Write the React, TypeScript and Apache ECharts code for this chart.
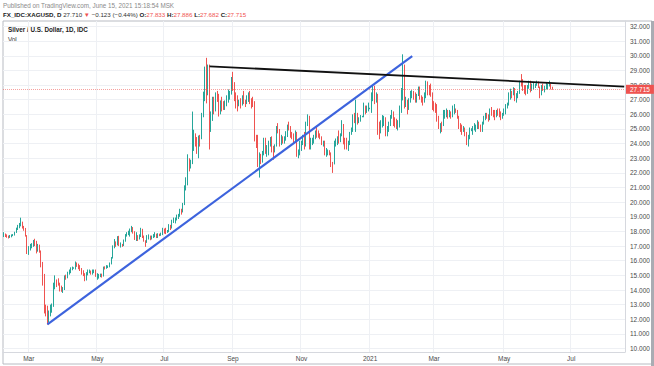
import React, { useEffect, useRef } from "react";
import * as echarts from "echarts";

// ---- data ----
const firstDate = "2020-02-07";
const axisEndDate = "2021-08-18";
const firstOpen = 17.7;

// daily closes, one row per month (Feb 2020 .. Jun 2021)
const closes = [
  17.77, 17.72, 17.66, 17.6, 17.68, 17.73, 17.76, 17.93, 18.22, 18.3, 18.55, 18.62, 18.32, 18.16, 17.72, 16.64,
  16.83, 17.06, 17.07, 17.29, 17.28, 16.88, 16.88, 16.67, 15.83, 14.87, 12.86, 12.55, 11.78, 12.28, 12.55, 12.89, 14.38, 14.64, 14.55, 14.45, 14.14, 13.97,
  14.06, 14.89, 14.86, 15.17, 15.18, 15.47, 15.48, 15.5, 15.75, 15.74, 15.65, 15.44, 15.23, 15.12, 14.67, 15.11, 15.25, 15.26, 15.13, 15.21, 15.27, 14.95,
  14.95, 14.97, 15.03, 14.94, 15.53, 15.5, 15.57, 15.63, 15.81, 16.19, 17.01, 17.2, 17.08, 17.62, 17.07, 17.07, 17.05, 17.33, 17.74, 17.83, 18.01,
  18.05, 18.19, 17.98, 17.47, 17.52, 17.5, 17.66, 18.14, 17.62, 17.36, 17.27, 17.54, 17.64, 17.49, 17.63, 17.63, 17.79, 17.65, 17.84, 17.77, 17.83, 18.16,
  18.07, 17.99, 18.0, 18.43, 18.28, 18.72, 18.74, 18.84, 19.05, 19.06, 19.43, 19.39, 19.89, 21.03, 21.43, 22.8, 22.64, 22.72, 24.27, 24.46, 24.18, 23.55, 24.4,
  24.32, 25.94, 27.08, 28.94, 27.5, 29.25, 25.7, 25.75, 27.0, 26.3, 27.33, 27.2, 26.1, 26.75, 26.68, 26.6, 26.72, 27.05, 27.15, 27.45, 28.28,
  28.08, 27.2, 26.82, 26.72, 26.85, 26.71, 27.2, 26.87, 26.75, 27.13, 27.23, 26.95, 26.85, 26.76, 24.47, 24.36, 22.87, 23.17, 22.94, 23.33, 24.19, 23.5,
  23.62, 23.9, 24.39, 23.52, 23.45, 23.85, 25.07, 24.98, 24.14, 24.35, 24.29, 24.36, 24.6, 25.14, 25.12, 24.63, 24.51, 24.37, 24.74, 23.35, 23.44, 23.65,
  24.04, 24.4, 23.89, 25.38, 25.56, 24.18, 24.24, 24.26, 24.4, 24.8, 24.66, 24.6, 24.45, 23.93, 24.09, 23.38, 23.41, 23.48, 23.3, 22.63, 22.58,
  24.14, 24.17, 24.39, 24.18, 24.57, 25.34, 24.09, 23.97, 23.95, 23.99, 24.72, 24.9, 25.92, 25.7, 25.87, 25.52, 25.6, 25.84, 25.85, 26.31, 26.28, 26.4, 26.41,
  26.41, 27.36, 27.78, 27.1, 27.16, 25.06, 24.9, 25.43, 25.48, 25.65, 24.7, 25.08, 25.34, 25.82, 26.15, 25.53, 25.52, 25.31, 25.45, 26.37, 26.99,
  29.39, 26.9, 26.96, 26.34, 26.93, 27.34, 27.41, 27.27, 26.98, 27.33, 27.8, 27.12, 27.04, 27.03, 27.2, 28.0, 27.79, 27.74, 27.29, 26.64,
  26.43, 26.37, 25.66, 25.18, 25.24, 25.2, 26.04, 26.08, 26.17, 25.95, 26.17, 25.9, 26.31, 26.35, 26.28, 25.89, 25.1, 25.07, 24.9, 25.08, 24.75, 24.11, 24.41,
  24.95, 24.95, 25.09, 25.1, 25.1, 25.38, 25.23, 24.96, 25.41, 25.67, 25.93, 25.87, 25.64, 26.28, 26.14, 26.03, 25.99, 26.15, 26.14, 26.03, 25.73, 25.92,
  26.28, 26.52, 26.62, 27.42, 27.43, 27.39, 27.68, 27.11, 27.29, 27.45, 28.23, 28.11, 27.94, 27.67, 27.47, 27.85, 28.03, 27.66, 27.95, 27.97, 28.03,
  28.11, 27.84, 27.41, 27.96, 27.77, 27.79, 27.94, 28.0, 28.09, 27.833, 27.715,
];

const highs = [
  17.95, 17.86, 17.8, 17.72, 17.76, 17.8, 17.82, 17.98, 18.26, 18.45, 18.58, 18.94, 18.67, 18.38, 18.24, 17.75,
  17.0, 17.15, 17.2, 17.42, 17.5, 17.36, 17.15, 17.1, 16.7, 15.92, 15.1, 13.0, 12.93, 12.6, 13.0, 13.08, 14.5, 15.0, 14.72, 14.8, 14.5, 14.3,
  14.2, 15.0, 15.05, 15.25, 15.4, 15.55, 15.6, 15.55, 15.95, 15.88, 15.8, 15.7, 15.5, 15.35, 15.15, 15.22, 15.4, 15.4, 15.33, 15.4, 15.4, 15.4,
  15.15, 15.1, 15.12, 15.12, 15.6, 15.62, 15.7, 15.68, 15.88, 16.25, 17.05, 17.48, 17.32, 17.68, 17.7, 17.25, 17.15, 17.45, 17.82, 17.95, 18.05,
  18.2, 18.38, 18.3, 18.02, 17.95, 17.75, 17.8, 18.25, 18.18, 17.72, 17.4, 17.75, 17.8, 17.72, 17.72, 17.82, 17.95, 17.85, 17.88, 17.85, 17.92, 18.25,
  18.2, 18.25, 18.1, 18.5, 18.45, 18.8, 18.95, 18.95, 19.15, 19.2, 19.55, 19.55, 19.95, 21.15, 21.7, 23.27, 23.0, 22.9, 26.19, 24.95, 24.7, 24.45, 24.55,
  24.6, 26.1, 27.55, 29.26, 29.86, 29.4, 29.4, 26.2, 27.2, 27.2, 27.5, 27.6, 27.4, 26.95, 27.2, 26.9, 26.95, 27.3, 27.7, 27.6, 28.55,
  28.9, 28.2, 27.5, 27.3, 27.0, 27.1, 27.3, 27.6, 27.0, 27.3, 27.5, 27.6, 27.1, 27.2, 26.9, 24.6, 24.6, 23.4, 23.3, 23.5, 24.4, 24.4,
  23.9, 24.2, 24.45, 24.5, 23.85, 23.95, 25.2, 25.4, 25.0, 24.6, 24.5, 24.5, 24.85, 25.3, 25.5, 25.2, 24.8, 24.7, 24.9, 24.8, 23.6, 24.2,
  24.2, 24.6, 24.8, 25.5, 26.0, 25.9, 24.4, 24.4, 24.6, 24.9, 25.2, 24.9, 24.7, 24.5, 24.2, 24.2, 23.7, 23.6, 23.55, 23.4, 22.75,
  24.2, 24.35, 24.5, 24.9, 24.7, 25.6, 25.3, 24.4, 24.4, 24.2, 24.8, 25.1, 26.0, 26.1, 27.0, 26.1, 25.8, 25.95, 25.9, 26.8, 26.6, 26.6, 26.8,
  26.45, 27.5, 27.95, 27.95, 27.5, 27.4, 25.5, 25.6, 25.95, 25.9, 25.8, 25.2, 25.5, 25.95, 26.3, 26.2, 25.8, 25.7, 25.6, 26.6, 27.8,
  30.1, 29.4, 27.2, 27.0, 27.1, 27.6, 27.65, 27.6, 27.5, 27.4, 27.9, 27.9, 27.3, 27.2, 27.5, 28.3, 28.25, 28.0, 28.1, 27.5,
  26.9, 26.8, 26.7, 25.9, 25.4, 25.5, 26.3, 26.3, 26.4, 26.3, 26.3, 26.2, 26.6, 26.7, 26.4, 26.3, 25.9, 25.4, 25.3, 25.2, 25.1, 24.8, 24.6,
  25.1, 25.05, 25.2, 25.4, 25.3, 25.6, 25.5, 25.3, 25.5, 25.9, 26.1, 26.1, 26.0, 26.4, 26.5, 26.3, 26.3, 26.3, 26.4, 26.4, 26.2, 26.1,
  26.4, 26.7, 26.8, 27.5, 27.75, 27.6, 27.85, 27.8, 27.45, 27.6, 28.3, 28.75, 28.4, 28.0, 28.0, 28.0, 28.3, 28.3, 28.1, 28.15, 28.1,
  28.3, 28.25, 27.9, 28.0, 28.1, 27.95, 28.15, 28.1, 28.3, 28.0, 27.886,
];

const lows = [
  17.62, 17.62, 17.57, 17.52, 17.56, 17.6, 17.68, 17.72, 17.9, 18.1, 18.22, 18.35, 18.2, 18.05, 17.65, 16.46,
  16.4, 16.7, 16.85, 16.95, 17.0, 16.5, 16.62, 16.55, 15.55, 14.3, 12.4, 12.2, 11.64, 11.9, 12.2, 12.45, 12.85, 14.05, 14.2, 14.3, 13.9, 13.88,
  13.8, 14.0, 14.7, 14.8, 15.05, 15.15, 15.35, 15.45, 15.4, 15.58, 15.42, 15.3, 15.05, 14.95, 14.6, 14.65, 15.0, 15.15, 15.05, 15.05, 15.15, 14.9,
  14.7, 14.78, 14.88, 14.85, 14.92, 15.4, 15.45, 15.5, 15.55, 15.75, 16.15, 16.85, 16.95, 17.05, 17.0, 16.9, 16.95, 17.0, 17.3, 17.65, 17.75,
  17.65, 17.95, 17.85, 17.42, 17.35, 17.35, 17.45, 17.62, 17.55, 17.3, 16.95, 17.22, 17.45, 17.4, 17.45, 17.55, 17.6, 17.55, 17.55, 17.68, 17.7, 17.75,
  17.85, 17.82, 17.9, 17.95, 18.1, 18.2, 18.58, 18.55, 18.75, 18.85, 19.0, 19.15, 19.3, 19.8, 20.8, 21.15, 22.1, 22.3, 22.6, 23.5, 23.8, 23.3, 23.0,
  23.8, 24.3, 25.8, 26.9, 26.75, 27.3, 23.6, 24.8, 25.55, 26.0, 26.2, 26.85, 25.85, 26.0, 26.2, 26.3, 26.3, 26.55, 26.8, 27.0, 27.35,
  27.6, 26.9, 26.4, 26.2, 26.55, 26.4, 26.6, 26.7, 26.5, 26.7, 26.85, 26.7, 26.4, 26.5, 24.15, 23.7, 22.4, 21.68, 22.6, 22.7, 23.2, 23.3,
  23.1, 23.2, 23.8, 23.4, 22.9, 23.4, 23.8, 24.7, 23.8, 23.9, 24.0, 24.0, 24.2, 24.45, 24.9, 24.4, 24.3, 24.0, 24.1, 23.1, 23.0, 23.2,
  23.5, 23.9, 23.6, 23.8, 25.2, 23.6, 23.6, 23.9, 24.0, 24.3, 24.4, 24.4, 24.3, 23.9, 23.8, 23.2, 23.1, 23.2, 23.2, 22.4, 22.0,
  22.6, 23.8, 23.9, 24.0, 24.1, 24.5, 23.95, 23.6, 23.6, 23.5, 23.9, 24.6, 24.8, 25.4, 24.8, 25.3, 25.4, 25.5, 25.8, 25.8, 26.0, 26.1, 26.2,
  26.35, 26.1, 26.9, 26.7, 26.8, 24.6, 24.3, 24.7, 25.1, 25.2, 24.5, 24.5, 24.8, 25.2, 25.7, 25.2, 25.1, 25.0, 24.9, 25.1, 26.1,
  26.95, 26.4, 26.5, 26.0, 26.3, 26.8, 27.1, 27.0, 26.8, 26.8, 27.25, 27.0, 26.8, 26.6, 26.8, 27.1, 27.3, 27.3, 27.2, 26.3,
  26.2, 26.1, 25.5, 25.0, 24.7, 24.8, 25.2, 25.7, 25.8, 25.7, 25.8, 25.7, 25.8, 26.0, 26.1, 25.7, 25.0, 24.8, 24.6, 24.8, 24.5, 23.9, 23.8,
  24.3, 24.85, 24.6, 24.9, 24.8, 25.0, 25.0, 24.8, 24.8, 25.3, 25.6, 25.7, 25.5, 25.6, 25.9, 25.8, 25.6, 25.8, 25.9, 25.8, 25.6, 25.7,
  25.9, 26.0, 26.4, 26.6, 27.0, 27.1, 27.3, 26.9, 26.8, 27.1, 27.4, 27.9, 27.6, 27.4, 27.3, 27.4, 27.75, 27.5, 27.6, 27.7, 27.8,
  27.95, 27.8, 27.1, 27.3, 27.6, 27.5, 27.7, 27.7, 27.9, 27.7, 27.682,
];

const priceTicks = [10, 11, 12, 13, 14, 15, 16, 17, 18, 19, 20, 21, 22, 23, 24, 25, 26, 27, 28, 29, 30, 31, 32];
const monthNames = ["Jan", "Feb", "Mar", "Apr", "May", "Jun", "Jul", "Aug", "Sep", "Oct", "Nov", "Dec"];
const lastPrice = 27.715;

const supportLine = { from: "2020-03-18", fromPrice: 11.66, to: "2021-02-09", toPrice: 29.97 };
const resistanceLine = { from: "2020-08-11", fromPrice: 29.28, to: "2021-08-18", toPrice: 27.9 };

const headerLine1 = "Published on TradingView.com, June 15, 2021 15:18:54 MSK";
const symbolTitle = "Silver / U.S. Dollar, 1D, IDC";

// ---- helpers ----
function weekdays(from: string, to: string): string[] {
  const out: string[] = [];
  let d = new Date(from + "T00:00:00Z");
  const e = new Date(to + "T00:00:00Z");
  while (d.getTime() <= e.getTime()) {
    const w = d.getUTCDay();
    if (w !== 0 && w !== 6) out.push(d.toISOString().slice(0, 10));
    d = new Date(d.getTime() + 86400000);
  }
  return out;
}

const dates = weekdays(firstDate, axisEndDate);

function isLabelDay(i: number): boolean {
  if (i <= 0) return false;
  const m = Number(dates[i].slice(5, 7));
  const pm = Number(dates[i - 1].slice(5, 7));
  return m !== pm && (m - 1) % 2 === 0;
}

const candleData = closes.map((c, i) => {
  const o = i === 0 ? firstOpen : closes[i - 1];
  return [o, c, Math.min(lows[i], o, c), Math.max(highs[i], o, c)];
});

function lineData(ln: { from: string; fromPrice: number; to: string; toPrice: number }) {
  return dates.map((d) => (d === ln.from ? ln.fromPrice : d === ln.to ? ln.toPrice : null));
}

const FONT = "'Liberation Sans', Arial, sans-serif";

export default function App() {
  const ref = useRef<HTMLDivElement>(null);
  useEffect(() => {
    if (!ref.current) return;
    const chart = echarts.init(ref.current, null, { renderer: "svg" });
    const option: any = {
      animation: false,
      backgroundColor: "#ffffff",
      textStyle: { fontFamily: FONT },
      grid: { left: 3, top: 21, width: 622, height: 331, containLabel: false },
      xAxis: {
        type: "category",
        data: dates,
        boundaryGap: true,
        axisLine: { show: true, lineStyle: { color: "#d6d8de", width: 1 } },
        axisTick: { show: false },
        axisLabel: {
          interval: (i: number) => isLabelDay(i),
          formatter: (v: string) => {
            const m = Number(v.slice(5, 7));
            return m === 1 ? v.slice(0, 4) : monthNames[m - 1];
          },
          fontSize: 6.5,
          color: "#4a4a4a",
          margin: 3,
          fontFamily: FONT,
        },
        splitLine: {
          show: true,
          interval: (i: number) => isLabelDay(i),
          lineStyle: { color: "#eef0f4", width: 1 },
        },
      },
      yAxis: {
        type: "value",
        position: "right",
        min: 9.766,
        max: 32.376,
        axisLine: { show: true, lineStyle: { color: "#d6d8de" } },
        axisTick: { show: false, customValues: priceTicks },
        axisLabel: {
          customValues: priceTicks,
          formatter: (v: number) => v.toFixed(3),
          fontSize: 6.5,
          color: "#4a4a4a",
          margin: 5,
          fontFamily: FONT,
        },
        splitLine: { show: true, lineStyle: { color: "#eef0f4", width: 1 } },
      },
      series: [
        {
          type: "candlestick",
          data: candleData,
          barWidth: "75%",
          itemStyle: {
            color: "#26a69a",
            color0: "#ef5350",
            borderColor: "#26a69a",
            borderColor0: "#ef5350",
            borderWidth: 1,
          },
          markLine: {
            silent: true,
            symbol: ["none", "none"],
            data: [{ yAxis: lastPrice }],
            lineStyle: { color: "rgba(239,83,80,0.55)", type: "dotted", width: 1 },
            label: {
              show: true,
              position: "end",
              formatter: lastPrice.toFixed(3),
              backgroundColor: "#ef5350",
              color: "#ffffff",
              fontSize: 6.5,
              padding: [1, 4, 1, 4],
              distance: 1,
              fontFamily: FONT,
            },
          },
        },
        {
          type: "line",
          data: lineData(supportLine),
          connectNulls: true,
          showSymbol: false,
          symbol: "none",
          lineStyle: { color: "#3d63dd", width: 2.2 },
          z: 5,
        },
        {
          type: "line",
          data: lineData(resistanceLine),
          connectNulls: true,
          showSymbol: false,
          symbol: "none",
          lineStyle: { color: "#111111", width: 1.8 },
          z: 5,
        },
      ],
      graphic: [
        {
          type: "rect",
          shape: { x: 3, y: 21, width: 649, height: 343 },
          style: { fill: "none", stroke: "#b8bbc2", lineWidth: 1 },
          silent: true,
          z: -1,
        },
        {
          type: "rect",
          shape: { x: 651, y: 21, width: 3, height: 345 },
          style: { fill: "#a9acb3" },
          silent: true,
        },
        {
          type: "text",
          x: 3,
          y: 2,
          style: { text: headerLine1, fontSize: 6.3, fill: "#8a8a8a", fontFamily: FONT },
        },
        {
          type: "text",
          x: 3,
          y: 11.5,
          style: {
            text:
              "{b|FX_IDC:XAGUSD, D} {k|27.710} {r|▼} {k|−0.123 (−0.44%)} {b|O:}{r|27.833} {b|H:}{r|27.886} {b|L:}{r|27.682} {b|C:}{r|27.715}",
            fontFamily: FONT,
            fontSize: 6.2,
            rich: {
              b: { fontWeight: "bold", fill: "#222", fontSize: 6.2, fontFamily: FONT },
              k: { fill: "#333", fontSize: 6.2, fontFamily: FONT },
              r: { fill: "#ef5350", fontSize: 6.2, fontFamily: FONT },
            },
          },
        },
        {
          type: "text",
          x: 8,
          y: 26,
          style: { text: symbolTitle, fontSize: 6.3, fontWeight: "bold", fill: "#222", fontFamily: FONT },
        },
        {
          type: "text",
          x: 8,
          y: 36,
          style: { text: "Vol", fontSize: 6.3, fill: "#333", fontFamily: FONT },
        },
      ],
    };
    chart.setOption(option);
    return () => chart.dispose();
  }, []);
  return (
    <div
      ref={ref}
      style={{ position: "fixed", left: 0, top: 0, width: 654, height: 366, background: "#fff" }}
    />
  );
}
